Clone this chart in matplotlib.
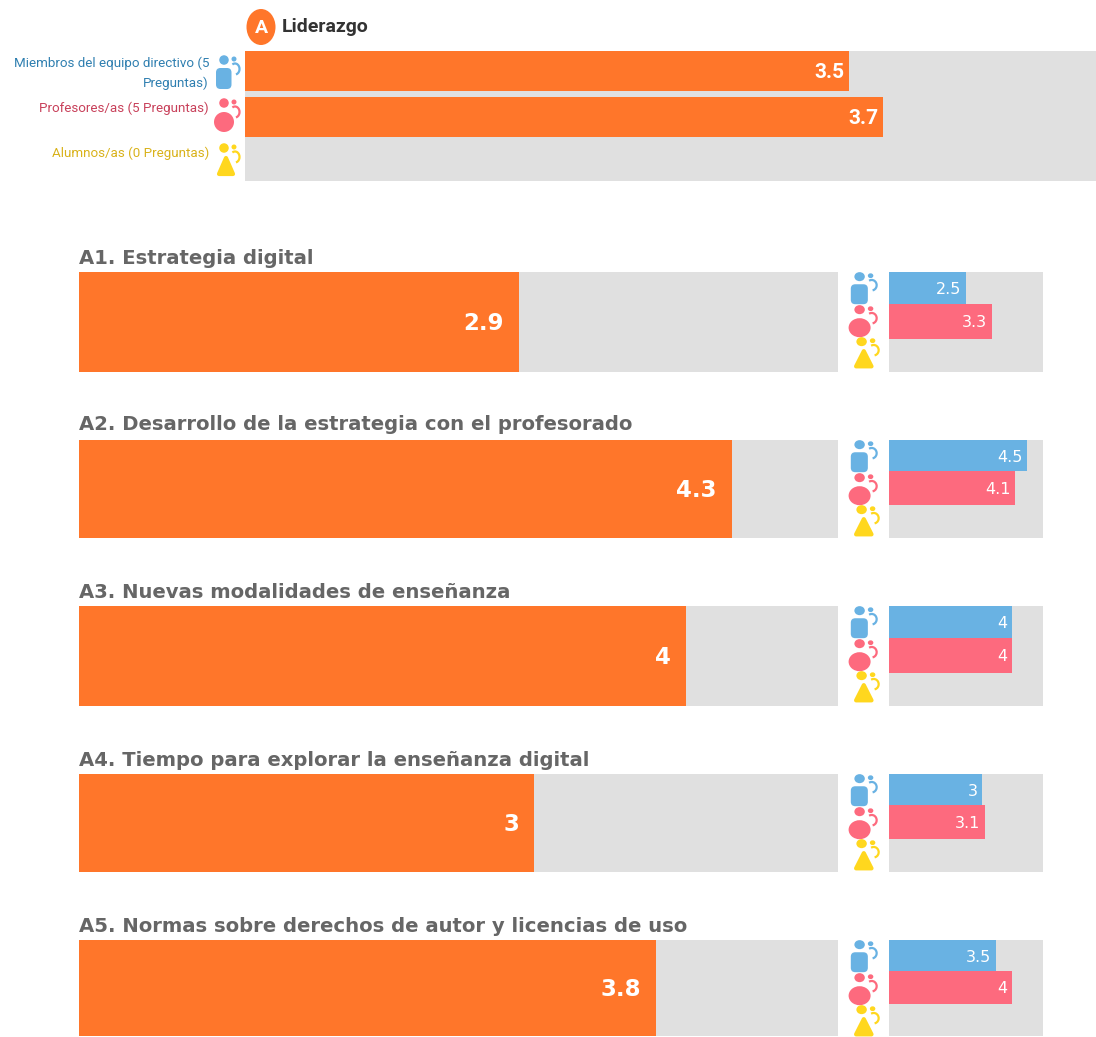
import matplotlib
matplotlib.use('Agg')
import matplotlib.pyplot as plt
from matplotlib.patches import Ellipse, Arc, FancyBboxPatch, Polygon

W, H = 1096, 1037

ORANGE = '#FF762A'
GREY = '#E0E0E0'
BLUE = '#69B2E3'
RED = '#FD6A7E'
YELLOW = '#FFD71E'

# top block
top_groups = ['Miembros del equipo directivo (5\nPreguntas)', 'Profesores/as (5 Preguntas)', 'Alumnos/as (0 Preguntas)']
top_values = [3.55, 3.75, 0]
top_labels = ['3.5', '3.7', '']
top_colors = ['#2F7FB0', '#C8405A', '#D9B21A']

# sections
titles = ['A1. Estrategia digital',
          'A2. Desarrollo de la estrategia con el profesorado',
          'A3. Nuevas modalidades de enseñanza',
          'A4. Tiempo para explorar la enseñanza digital',
          'A5. Normas sobre derechos de autor y licencias de uso']
totals = [2.9, 4.3, 4, 3, 3.8]
total_labels = ['2.9', '4.3', '4', '3', '3.8']
lead_vals = [2.5, 4.48, 4, 3.02, 3.47]
lead_labels = ['2.5', '4.5', '4', '3', '3.5']
teach_vals = [3.34, 4.09, 4, 3.12, 4]
teach_labels = ['3.3', '4.1', '4', '3.1', '4']

panel_tops = [272, 440, 606, 774, 940]
panel_bottoms = [372, 538, 706, 872, 1036]
title_ys = [258, 425, 592, 760, 927]

NARROW = ['Roboto', 'DejaVu Sans']


def px_axes(fig, x0, y0, x1, y1):
    ax = fig.add_axes([x0 / W, 1 - y1 / H, (x1 - x0) / W, (y1 - y0) / H])
    ax.set_xlim(0, 5)
    ax.set_facecolor(GREY)
    ax.set_xticks([])
    ax.set_yticks([])
    for s in ax.spines.values():
        s.set_visible(False)
    return ax


def icon(ov, cx, cy, color, kind, sx=1.0, sy=1.0):
    # cx, cy = middle of the icon in pixels
    ov.add_patch(Ellipse((cx - 4 * sx, cy - 13 * sy), 9.5 * sx, 9.5 * sy, color=color, lw=0))
    ov.add_patch(Ellipse((cx + 6 * sx, cy - 14 * sy), 5 * sx, 5 * sy, color=color, lw=0))
    ov.add_patch(Arc((cx + 7 * sx, cy - 4 * sy), 9 * sx, 11 * sy, theta1=-120, theta2=80, color=color, lw=1.6))
    if kind == 'square':
        ov.add_patch(FancyBboxPatch((cx - 12 * sx, cy - 5 * sy), 15.5 * sx, 21 * sy,
                                    boxstyle='round,pad=0,rounding_size=4.5', color=color, lw=0))
    elif kind == 'circle':
        ov.add_patch(Ellipse((cx - 4 * sx, cy + 6 * sy), 20 * sx, 20 * sy, color=color, lw=0))
    else:
        ov.add_patch(Polygon([(cx - 2 * sx, cy - 3 * sy), (cx - 9 * sx, cy + 13 * sy), (cx + 5 * sx, cy + 13 * sy)],
                             closed=True, facecolor=color, edgecolor=color, lw=3, joinstyle='round'))


fig = plt.figure(figsize=(W / 100, H / 100), dpi=100, facecolor='white')

# top bars
ax = px_axes(fig, 245, 51, 1096, 181)
ax.set_ylim(130, 0)
ax.barh([20, 66, 110], top_values, height=40, color=ORANGE)
for i, v in enumerate(top_values):
    if top_labels[i]:
        ax.text(v - 0.03, [22, 67, 110][i], top_labels[i], color='white', ha='right', va='center', fontsize=15, fontweight='bold', family=NARROW)

# sections
for i in range(5):
    ax = px_axes(fig, 79, panel_tops[i], 838, panel_bottoms[i])
    ax.set_ylim(1, 0)
    ax.barh(0.5, totals[i], height=1, color=ORANGE)
    ax.text(totals[i] - 0.1, 0.52, total_labels[i], color='white', ha='right', va='center', fontsize=16.5, fontweight='bold')

    ax2 = px_axes(fig, 889, panel_tops[i], 1043, panel_bottoms[i])
    ax2.set_ylim(3, 0)
    ax2.barh(0.48, lead_vals[i], height=0.96, color=BLUE)
    ax2.barh(1.48, teach_vals[i], height=1.04, color=RED)
    ax2.text(lead_vals[i] - 0.15, 0.54, lead_labels[i], color='white', ha='right', va='center', fontsize=11.5)
    ax2.text(teach_vals[i] - 0.15, 1.52, teach_labels[i], color='white', ha='right', va='center', fontsize=11.5)

# overlay in pixel coordinates for header, titles and icons
ov = fig.add_axes([0, 0, 1, 1], facecolor='none')
ov.set_xlim(0, W)
ov.set_ylim(H, 0)
ov.axis('off')

ov.add_patch(Ellipse((261, 27), 29, 36, color=ORANGE, lw=0))
ov.text(261, 28, 'A', color='white', ha='center', va='center', fontsize=14, fontweight='bold', family=NARROW)
ov.text(282, 27, 'Liderazgo', color='#333333', ha='left', va='center', fontsize=14, fontweight='bold', family=NARROW)

ov.text(209, 73, top_groups[0], color=top_colors[0], ha='right', va='center', fontsize=9.6, family=NARROW, linespacing=1.6)
ov.text(209, 108, top_groups[1], color=top_colors[1], ha='right', va='center', fontsize=9.6, family=NARROW)
ov.text(209, 153, top_groups[2], color=top_colors[2], ha='right', va='center', fontsize=9.6, family=NARROW)

icon(ov, 228, 73, BLUE, 'square')
icon(ov, 228, 116, RED, 'circle')
icon(ov, 228, 161, YELLOW, 'triangle')

for i in range(5):
    ov.text(79, title_ys[i], titles[i], color='#666666', ha='left', va='center', fontsize=14.1, fontweight='bold')
    t = panel_tops[i]
    icon(ov, 864, t + 17, BLUE, 'square', 1.1, 0.95)
    icon(ov, 864, t + 50, RED, 'circle', 1.1, 0.95)
    icon(ov, 866, t + 82, YELLOW, 'triangle', 1.1, 0.95)

fig.savefig('out.png', dpi=100)
